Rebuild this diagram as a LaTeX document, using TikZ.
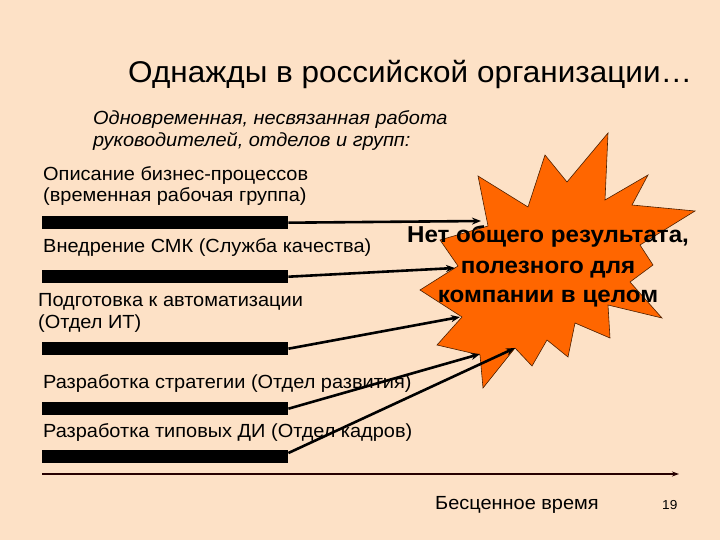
\documentclass[tikz,border=0pt]{standalone}
\usepackage{fontspec}
\setmainfont{Liberation Sans}[FakeStretch=1.05]
\usetikzlibrary{arrows.meta}
\definecolor{slidebg}{HTML}{FDE1C6}
\definecolor{burst}{HTML}{FF6600}
\begin{document}
\begin{tikzpicture}[x=1pt,y=-1pt,
  lbl/.style={anchor=base west,inner sep=0pt,font=\fontsize{19}{21}\selectfont},
  bar/.style={fill=black,minimum width=246pt,minimum height=13pt,inner sep=0pt,anchor=north west},
  burstline/.style={anchor=base,inner sep=0pt,font=\fontsize{23}{26}\selectfont\bfseries},
  feed/.style={line width=2.6pt,-{Stealth[length=9pt,width=7pt]}}]
\useasboundingbox (0,0) rectangle (720,540);
\fill[slidebg] (0,0) rectangle (720,540);
% title
\node[anchor=base west,inner sep=0pt,font=\fontsize{30}{32}\selectfont] (title) at (128,83) {Однажды в российской организации…};
\node[lbl,font=\fontsize{19}{21}\selectfont\itshape] (sub1) at (93,125) {Одновременная, несвязанная работа};
\node[lbl,font=\fontsize{19}{21}\selectfont\itshape] (sub2) at (93,147) {руководителей, отделов и групп:};
% the burst
\draw[fill=burst,draw=black!70!burst,line width=0.6pt] (608,133) -- (605,200) -- (648,175) -- (632,205) -- (695,211)
    -- (640,245) -- (653,265) -- (630,282) -- (662,318) -- (608,305) -- (610,338) -- (575,323)
    -- (568,357) -- (547,340) -- (532,366) -- (515,348) -- (483,388) -- (480,355) -- (437,345)
    -- (462,317) -- (420,290) -- (458,266) -- (440,240) -- (488,226) -- (478,176) -- (528,207)
    -- (545,155) -- (567,182) -- cycle;
\coordinate (t1) at (481,221);
\coordinate (t2) at (455,268);
\coordinate (t3) at (460,317);
\coordinate (t4) at (480,354);
\coordinate (t5) at (515,348);
% tasks
\node[lbl] (w1a) at (43,181) {Описание бизнес-процессов};
\node[lbl] (w1b) at (43,202) {(временная рабочая группа)};
\node[bar] (bar1) at (42,216) {};
\node[lbl] (w2) at (43,252) {Внедрение СМК (Служба качества)};
\node[bar] (bar2) at (42,270) {};
\node[lbl] (w3a) at (38,306) {Подготовка к автоматизации};
\node[lbl] (w3b) at (38,328) {(Отдел ИТ)};
\node[bar] (bar3) at (42,342) {};
\node[lbl] (w4) at (43,388) {Разработка стратегии (Отдел развития)};
\node[bar] (bar4) at (42,402) {};
\node[lbl] (w5) at (43,437) {Разработка типовых ДИ (Отдел кадров)};
\node[bar] (bar5) at (42,450) {};
\draw[feed] (bar1.east) -- (t1);
\draw[feed] (bar2.east) -- (t2);
\draw[feed] (bar3.east) -- (t3);
\draw[feed] (bar4.east) -- (t4);
\draw[feed] (bar5.north east) ++(0,3) -- (t5);
% result
\node[burstline] (res1) at (548,243) {Нет общего результата,};
\node[burstline] (res2) at (548,273) {полезного для};
\node[burstline] (res3) at (548,302) {компании в целом};
% time axis
\coordinate (ax0) at (42,474);
\coordinate (ax1) at (679,474);
\draw[line width=1.5pt,draw=black!85!red,-{Stealth[length=7pt,width=5pt]}] (ax0) -- (ax1);
\node[lbl] (time) at (435,509) {Бесценное время};
\node[anchor=base west,inner sep=0pt,font=\fontsize{13}{15}\selectfont] (pgno) at (662,509) {19};
\end{tikzpicture}
\end{document}
